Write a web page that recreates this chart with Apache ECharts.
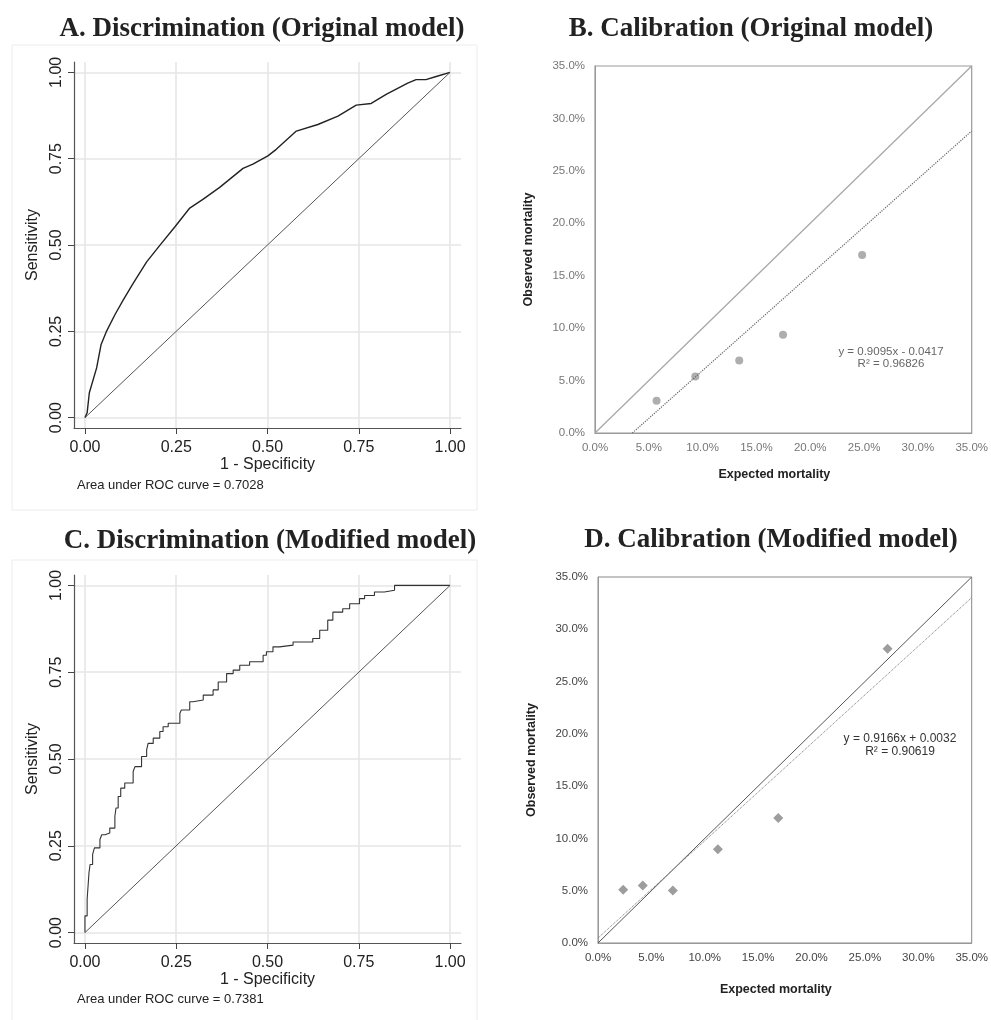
<!DOCTYPE html>
<html>
<head>
<meta charset="utf-8">
<script src="https://cdn.jsdelivr.net/npm/echarts@6/dist/echarts.min.js"></script>
<style>
  body { margin: 0; background: #fff; }
  #chart { width: 991px; height: 1020px; }
</style>
</head>
<body>
<div id="chart"></div>
<script>
// ROC curve, original model (1 - specificity, sensitivity)
var rocOriginal = [
  [0, 0], [0.006, 0.014], [0.012, 0.072], [0.032, 0.144], [0.044, 0.211],
  [0.059, 0.25], [0.082, 0.298], [0.105, 0.341], [0.132, 0.389], [0.169, 0.451],
  [0.205, 0.499], [0.246, 0.552], [0.287, 0.607], [0.324, 0.633], [0.369, 0.667],
  [0.433, 0.722], [0.46, 0.734], [0.501, 0.758], [0.524, 0.777], [0.579, 0.83],
  [0.638, 0.849], [0.693, 0.873], [0.743, 0.905], [0.784, 0.91], [0.825, 0.936],
  [0.884, 0.969], [0.907, 0.979], [0.934, 0.979], [0.962, 0.988], [1, 1]
];
// ROC curve, modified model
var rocModified = [
  [0, 0], [0.006, 0.048], [0.011, 0.096], [0.014, 0.172], [0.021, 0.196],
  [0.026, 0.225], [0.032, 0.244], [0.041, 0.244], [0.046, 0.268], [0.055, 0.282],
  [0.068, 0.287], [0.082, 0.301], [0.085, 0.335], [0.091, 0.359], [0.098, 0.392],
  [0.109, 0.416], [0.132, 0.431], [0.137, 0.464], [0.155, 0.478], [0.169, 0.507],
  [0.173, 0.526], [0.187, 0.545], [0.205, 0.56], [0.214, 0.579], [0.228, 0.593],
  [0.26, 0.603], [0.264, 0.632], [0.287, 0.641], [0.296, 0.665], [0.324, 0.67],
  [0.351, 0.684], [0.365, 0.699], [0.388, 0.722], [0.406, 0.746], [0.424, 0.756],
  [0.451, 0.77], [0.488, 0.78], [0.497, 0.799], [0.515, 0.809], [0.533, 0.823],
  [0.57, 0.828], [0.624, 0.837], [0.643, 0.847], [0.665, 0.871], [0.679, 0.9],
  [0.706, 0.923], [0.725, 0.933], [0.752, 0.947], [0.766, 0.962], [0.793, 0.971],
  [0.82, 0.981], [0.848, 0.986], [0.861, 1], [1, 1]
];
var rocDiagonal = [[0, 0], [1, 1]];
var rocTicks = [0, 0.25, 0.5, 0.75, 1];

// calibration: expected vs observed mortality
var calOriginal = [[0.0572, 0.0307], [0.0932, 0.0539], [0.134, 0.0691], [0.1747, 0.0936], [0.2482, 0.1698]];
var trendOriginal = [[0.0347, 0], [0.35, 0.288]];
var calModified = [[0.0236, 0.0509], [0.0419, 0.055], [0.0701, 0.0502], [0.1123, 0.0897], [0.1688, 0.1196], [0.2712, 0.2813]];
var trendModified = [[0, 0.0048], [0.35, 0.3303]];
var calDiagonal = [[0, 0], [0.35, 0.35]];

var titles = ['A. Discrimination (Original model)', 'B. Calibration (Original model)',
  'C. Discrimination (Modified model)', 'D. Calibration (Modified model)'];
var aucTexts = ['Area under ROC curve = 0.7028', 'Area under ROC curve = 0.7381'];
var eqOriginal = ['y = 0.9095x - 0.0417', 'R² = 0.96826'];
var eqModified = ['y = 0.9166x + 0.0032', 'R² = 0.90619'];

var sans = "'Liberation Sans', Arial, Helvetica, sans-serif";
var serif = "'Liberation Serif', 'Times New Roman', serif";

function pct(v) { return (v * 100).toFixed(1) + '%'; }

function rocX(gi) {
  return {
    type: 'value', gridIndex: gi, min: -0.03, max: 1.03,
    name: '1 - Specificity', nameLocation: 'middle', nameGap: 28,
    nameTextStyle: { fontFamily: sans, fontSize: 16, color: '#222' },
    axisLine: { show: true, onZero: false, lineStyle: { color: '#555', width: 1.2 } },
    axisTick: { show: true, length: 6, customValues: rocTicks, lineStyle: { color: '#444' } },
    axisLabel: { customValues: rocTicks, margin: 12, fontFamily: sans, fontSize: 16, color: '#222',
      formatter: function (v) { return v.toFixed(2); } },
    splitLine: { show: true, lineStyle: { color: '#e6e6e6', width: 1.6 } }
  };
}
function rocY(gi) {
  return {
    type: 'value', gridIndex: gi, min: -0.03, max: 1.03,
    name: 'Sensitivity', nameLocation: 'middle', nameGap: 33, nameRotate: 90,
    nameTextStyle: { fontFamily: sans, fontSize: 16, color: '#222' },
    axisLine: { show: true, onZero: false, lineStyle: { color: '#555', width: 1.2 } },
    axisTick: { show: true, length: 6, customValues: rocTicks, lineStyle: { color: '#444' } },
    axisLabel: { customValues: rocTicks, margin: 9, rotate: 90, fontFamily: sans, fontSize: 16, color: '#222',
      formatter: function (v) { return v.toFixed(2); } },
    splitLine: { show: true, lineStyle: { color: '#e6e6e6', width: 1.6 } }
  };
}
function calX(gi, gap, color) {
  return {
    type: 'value', gridIndex: gi, min: 0, max: 0.35, interval: 0.05,
    name: 'Expected mortality', nameLocation: 'middle', nameGap: gap,
    nameTextStyle: { fontFamily: sans, fontSize: 12.5, fontWeight: 'bold', color: '#222', padding: [0, 18, 0, 0] },
    axisLine: { show: true, lineStyle: { color: '#999' } },
    axisTick: { show: false },
    axisLabel: { margin: 9, fontFamily: sans, fontSize: 11.5, color: color, formatter: pct },
    splitLine: { show: false }
  };
}
function calY(gi, color) {
  return {
    type: 'value', gridIndex: gi, min: 0, max: 0.35, interval: 0.05,
    name: 'Observed mortality', nameLocation: 'middle', nameGap: 60, nameRotate: 90,
    nameTextStyle: { fontFamily: sans, fontSize: 12.5, fontWeight: 'bold', color: '#222' },
    axisLine: { show: true, lineStyle: { color: '#999' } },
    axisTick: { show: false },
    axisLabel: { margin: 10, fontFamily: sans, fontSize: 11.5, color: color, formatter: pct },
    splitLine: { show: false }
  };
}

function text(str, x, y, font, color, align) {
  return {
    type: 'text', x: x, y: y, silent: true,
    style: { text: str, font: font, fill: color, align: align || 'center', verticalAlign: 'middle' }
  };
}

var chart = echarts.init(document.getElementById('chart'), null, { renderer: 'canvas' });
chart.setOption({
  animation: false,
  backgroundColor: '#fff',
  grid: [
    { left: 74, top: 62, width: 387, height: 366 },
    { left: 595, top: 66, width: 379, height: 367, show: true, borderColor: '#999', borderWidth: 1.2 },
    { left: 74, top: 575, width: 387, height: 368 },
    { left: 598, top: 577, width: 376, height: 366, show: true, borderColor: '#888', borderWidth: 1 }
  ],
  xAxis: [rocX(0), calX(1, 35, '#777'), rocX(2), calX(3, 40, '#444')],
  yAxis: [rocY(0), calY(1, '#777'), rocY(2), calY(3, '#444')],
  series: [
    { type: 'line', xAxisIndex: 0, yAxisIndex: 0, data: rocOriginal, symbol: 'none',
      lineStyle: { color: '#222', width: 1.4 } },
    { type: 'line', xAxisIndex: 0, yAxisIndex: 0, data: rocDiagonal, symbol: 'none',
      lineStyle: { color: '#555', width: 1 } },
    { type: 'line', xAxisIndex: 1, yAxisIndex: 1, data: calDiagonal, symbol: 'none',
      lineStyle: { color: '#a8a8a8', width: 1.3 } },
    { type: 'line', xAxisIndex: 1, yAxisIndex: 1, data: trendOriginal, symbol: 'none',
      lineStyle: { color: '#666', width: 1.2, type: 'dotted' } },
    { type: 'scatter', xAxisIndex: 1, yAxisIndex: 1, data: calOriginal, symbol: 'circle', symbolSize: 8,
      itemStyle: { color: '#9a9a9a' } },
    { type: 'line', xAxisIndex: 2, yAxisIndex: 2, data: rocModified, symbol: 'none', step: 'start',
      lineStyle: { color: '#333', width: 1.1 } },
    { type: 'line', xAxisIndex: 2, yAxisIndex: 2, data: rocDiagonal, symbol: 'none',
      lineStyle: { color: '#555', width: 1 } },
    { type: 'line', xAxisIndex: 3, yAxisIndex: 3, data: calDiagonal, symbol: 'none',
      lineStyle: { color: '#555', width: 1 } },
    { type: 'line', xAxisIndex: 3, yAxisIndex: 3, data: trendModified, symbol: 'none',
      lineStyle: { color: '#777', width: 1, type: 'dotted' } },
    { type: 'scatter', xAxisIndex: 3, yAxisIndex: 3, data: calModified, symbol: 'diamond', symbolSize: 10,
      itemStyle: { color: '#858585' } }
  ],
  graphic: [
    { type: 'rect', silent: true, shape: { x: 12, y: 45, width: 465, height: 465 },
      style: { fill: 'none', stroke: '#ececec', lineWidth: 1 } },
    { type: 'rect', silent: true, shape: { x: 12, y: 560, width: 465, height: 480 },
      style: { fill: 'none', stroke: '#ececec', lineWidth: 1 } },
    text(titles[0], 262, 29, 'bold 27px ' + serif, '#222'),
    text(titles[1], 751, 29, 'bold 27px ' + serif, '#222'),
    text(titles[2], 270, 541, 'bold 27px ' + serif, '#222'),
    text(titles[3], 771, 540, 'bold 27px ' + serif, '#222'),
    text(aucTexts[0], 77, 485, '13px ' + sans, '#222', 'left'),
    text(aucTexts[1], 77, 999, '13px ' + sans, '#222', 'left'),
    text(eqOriginal[0], 891, 352, '11.5px ' + sans, '#666'),
    text(eqOriginal[1], 891, 364, '11.5px ' + sans, '#666'),
    text(eqModified[0], 900, 739, '12px ' + sans, '#333'),
    text(eqModified[1], 900, 752, '12px ' + sans, '#333')
  ]
});
</script>
</body>
</html>
